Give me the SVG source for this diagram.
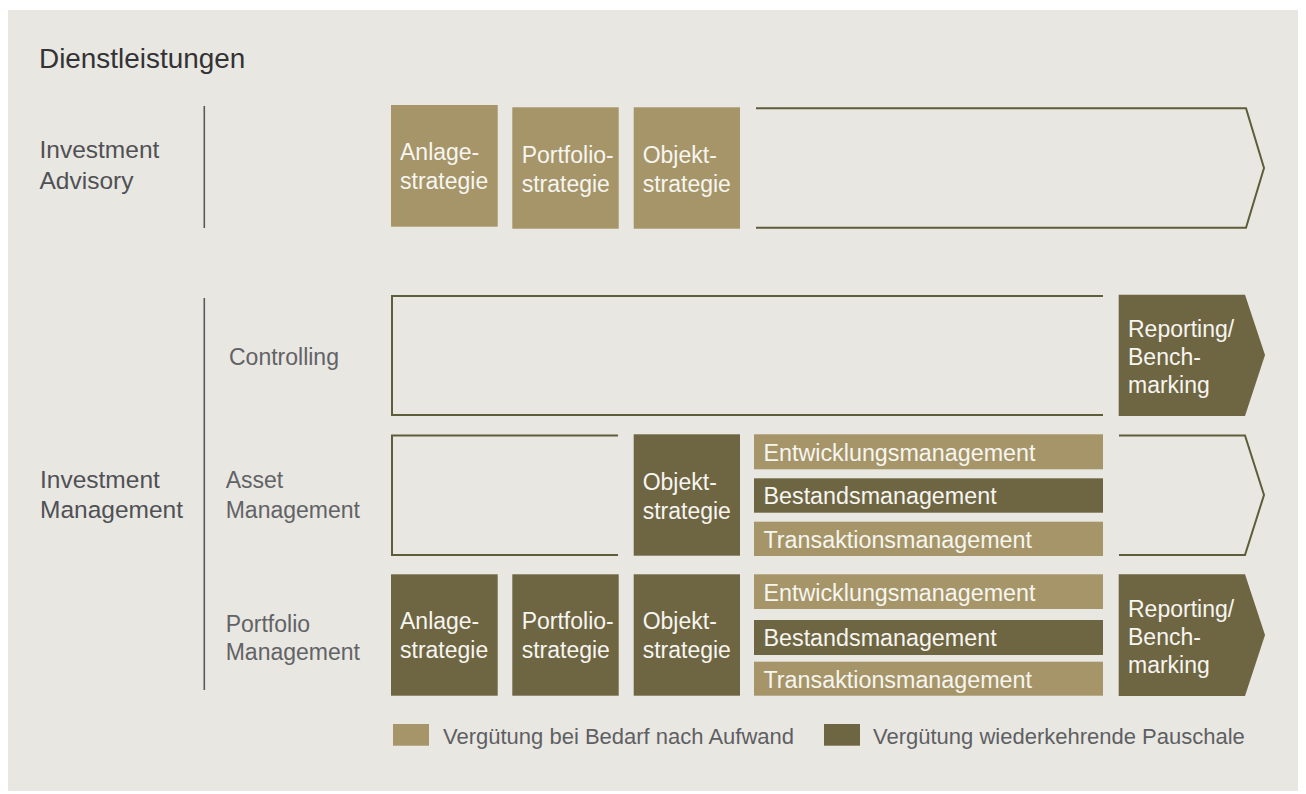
<svg xmlns="http://www.w3.org/2000/svg" width="1306" height="794" viewBox="0 0 1306 794">
<style>
.t{font-family:"Liberation Sans",Arial,Helvetica,sans-serif}
.title{font-size:27.9px;fill:#333335}
.main{font-size:24.5px;fill:#505155}
.sub{font-size:23px;fill:#626366}
.box{font-size:23px;fill:#f7f5f0}
.bar{font-size:23.3px;fill:#f7f5f0}
.leg{font-size:22px;fill:#5e5f62}
.lt{fill:#a59568}
.dk{fill:#6e6542}
.ol{fill:none;stroke:#5c5e3a;stroke-width:2}
.div{stroke:#58595c;stroke-width:1.6}
</style>
<rect x="0" y="0" width="1306" height="794" fill="#ffffff"/>
<rect x="8" y="10" width="1290" height="781" fill="#e9e7e2"/>

<g id="title"><text class="t title" x="39" y="68">Dienstleistungen</text></g>

<g id="labels">
<text class="t main" x="39.5" y="158.3">Investment</text>
<text class="t main" x="39.5" y="188.5">Advisory</text>
<text class="t sub" x="229" y="365">Controlling</text>
<text class="t main" x="40" y="488">Investment</text>
<text class="t main" x="40" y="518">Management</text>
<text class="t sub" x="225.7" y="488">Asset</text>
<text class="t sub" x="225.7" y="518">Management</text>
<text class="t sub" x="225.7" y="631.5">Portfolio</text>
<text class="t sub" x="225.7" y="660">Management</text>
</g>

<g id="dividers">
<line class="div" x1="204.3" y1="106" x2="204.3" y2="228"/>
<line class="div" x1="204.3" y1="298" x2="204.3" y2="690"/>
</g>

<g id="connectors">
<polyline class="ol" points="756,108.3 1246,108.3 1264,168 1246,227.7 756,227.7"/>
<polyline class="ol" points="1103,296 392,296 392,415 1103,415"/>
<polyline class="ol" points="618,435.5 392,435.5 392,555 618,555"/>
<polyline class="ol" points="1119,435.5 1245,435.5 1264,495 1245,555 1119,555"/>
</g>

<g id="ia-anlage"><rect class="lt" x="391" y="105" width="106.7" height="121.7"/><text class="t box" x="400" y="160">Anlage-</text><text class="t box" x="400" y="189.3">strategie</text></g>
<g id="ia-portfolio"><rect class="lt" x="512.3" y="107.3" width="106.4" height="121.4"/><text class="t box" x="521.7" y="163.3">Portfolio-</text><text class="t box" x="521.7" y="192">strategie</text></g>
<g id="ia-objekt"><rect class="lt" x="633.7" y="107.3" width="106.3" height="121.4"/><text class="t box" x="642.7" y="163.3">Objekt-</text><text class="t box" x="642.7" y="192">strategie</text></g>

<g id="ctrl-reporting"><polygon class="dk" points="1118.7,294.7 1245,294.7 1265,355 1245,416 1118.7,416"/><text class="t box" x="1128" y="336.7">Reporting/</text><text class="t box" x="1128" y="365">Bench-</text><text class="t box" x="1128" y="393.3">marking</text></g>

<g id="am-objekt"><rect class="dk" x="633.7" y="434.3" width="106.3" height="121.4"/><text class="t box" x="642.7" y="490">Objekt-</text><text class="t box" x="642.7" y="519.3">strategie</text></g>
<g id="am-entw"><rect class="lt" x="754" y="434.3" width="349" height="35"/><text class="t bar" x="763.5" y="460.5">Entwicklungsmanagement</text></g>
<g id="am-bestand"><rect class="dk" x="754" y="478.3" width="349" height="34.4"/><text class="t bar" x="763.5" y="504.2">Bestandsmanagement</text></g>
<g id="am-trans"><rect class="lt" x="754" y="521.7" width="349" height="34.3"/><text class="t bar" x="763.5" y="548.2">Transaktionsmanagement</text></g>

<g id="pm-anlage"><rect class="dk" x="391" y="574.3" width="106.7" height="121.4"/><text class="t box" x="400" y="629">Anlage-</text><text class="t box" x="400" y="658.3">strategie</text></g>
<g id="pm-portfolio"><rect class="dk" x="512.3" y="574.3" width="106.4" height="121.4"/><text class="t box" x="521.7" y="629">Portfolio-</text><text class="t box" x="521.7" y="658.3">strategie</text></g>
<g id="pm-objekt"><rect class="dk" x="633.7" y="574.3" width="106.3" height="121.4"/><text class="t box" x="642.7" y="629">Objekt-</text><text class="t box" x="642.7" y="658.3">strategie</text></g>
<g id="pm-entw"><rect class="lt" x="754" y="574.3" width="349" height="34.7"/><text class="t bar" x="763.5" y="600.5">Entwicklungsmanagement</text></g>
<g id="pm-bestand"><rect class="dk" x="754" y="620" width="349" height="35"/><text class="t bar" x="763.5" y="646">Bestandsmanagement</text></g>
<g id="pm-trans"><rect class="lt" x="754" y="661.7" width="349" height="34"/><text class="t bar" x="763.5" y="688.3">Transaktionsmanagement</text></g>
<g id="pm-reporting"><polygon class="dk" points="1118.7,574.3 1245,574.3 1265,635 1245,696 1118.7,696"/><text class="t box" x="1128" y="616.5">Reporting/</text><text class="t box" x="1128" y="644.8">Bench-</text><text class="t box" x="1128" y="673">marking</text></g>

<g id="legend">
<rect class="lt" x="393" y="724" width="36" height="21.7"/>
<text class="t leg" x="443" y="743.5">Vergütung bei Bedarf nach Aufwand</text>
<rect class="dk" x="824" y="724" width="36" height="21.7"/>
<text class="t leg" x="873" y="743.5">Vergütung wiederkehrende Pauschale</text>
</g>
</svg>
